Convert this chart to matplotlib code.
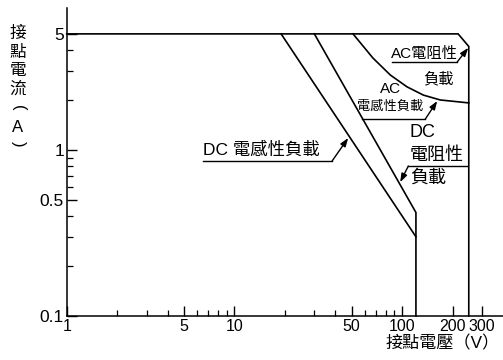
import matplotlib
matplotlib.use("Agg")
import matplotlib.pyplot as plt
from matplotlib.ticker import FixedLocator, NullFormatter

plt.rcParams['font.family'] = ['Liberation Sans', 'Noto Sans CJK TC']

# contact rating curves (voltage V, current A)
env_v = [1, 216, 250, 250]
env_i = [5, 5, 4.2, 0.1]
dc_ind_v = [19, 121]
dc_ind_i = [5, 0.30]
dc_res_v = [30, 121, 121]
dc_res_i = [5, 0.42, 0.1]
ac_ind_v = [51, 67, 85, 107, 134, 169, 250]
ac_ind_i = [5, 3.58, 2.83, 2.40, 2.14, 2.0, 1.92]

x_major = [1, 5, 10, 50, 100, 200, 300]
x_labels = ["1", "5", "10", "50", "100", "200", "300"]
x_minor = [2, 3, 4, 6, 7, 8, 9, 20, 30, 40, 60, 70, 80, 90]
y_major = [0.1, 0.5, 1, 5]
y_labels = ["0.1", "0.5", "1", "5"]
y_minor = [0.2, 0.3, 0.4, 0.6, 0.7, 0.8, 0.9, 2, 3, 4]

fig = plt.figure(figsize=(5.03, 3.6), dpi=100)
ax = fig.add_axes([0.1326, 0.1222, 0.8674, 0.8556])
ax.set_xscale("log")
ax.set_yscale("log")
ax.set_xlim(1, 400)
ax.set_ylim(0.1, 7.16)

lw = 1.2
for v, i in [(env_v, env_i), (dc_ind_v, dc_ind_i), (dc_res_v, dc_res_i), (ac_ind_v, ac_ind_i)]:
    ax.plot(v, i, color="black", lw=lw, solid_joinstyle="miter", clip_on=False)

for s in ["top", "right"]:
    ax.spines[s].set_visible(False)
for s in ["left", "bottom"]:
    ax.spines[s].set_linewidth(1.1)

ax.xaxis.set_major_locator(FixedLocator(x_major))
ax.xaxis.set_minor_locator(FixedLocator(x_minor))
ax.set_xticklabels(x_labels)
ax.xaxis.set_minor_formatter(NullFormatter())
ax.yaxis.set_major_locator(FixedLocator(y_major))
ax.yaxis.set_minor_locator(FixedLocator(y_minor))
ax.set_yticklabels(y_labels)
ax.yaxis.set_minor_formatter(NullFormatter())
ax.tick_params(which="major", direction="in", length=7, width=1.0, pad=2)
ax.tick_params(which="minor", direction="in", length=4.5, width=0.9)
for lab in ax.get_xticklabels():
    lab.set_fontsize(11.5)
for lab in ax.get_yticklabels():
    lab.set_fontsize(12.5)

fs = 12
arrow = dict(arrowstyle="-|>,head_length=0.5,head_width=0.18", color="black", lw=1.0,
             shrinkA=0, shrinkB=0)

def callout(x0, x1, y, tip):
    ax.plot([x0, x1], [y, y], color="black", lw=1.0)
    ax.annotate("", xy=tip, xytext=(x1, y), arrowprops=arrow)

# DC inductive
ax.text(6.5, 1.0, "DC 電感性負載", fontsize=12.5, ha="left", va="center")
callout(6.5, 38.3, 0.859, (47.7, 1.18))

# AC resistive
ax.text(135.5, 3.79, "AC電阻性", fontsize=11, ha="center", va="center")
ax.text(164, 2.68, "負載", fontsize=11, ha="center", va="center")
callout(87.3, 213, 3.38, (248, 4.12))

# AC inductive
ax.text(84.9, 2.33, "AC", fontsize=11, ha="center", va="center")
ax.text(84.9, 1.82, "電感性負載", fontsize=9.5, ha="center", va="center")
callout(57.8, 137.4, 1.53, (162, 1.97))

# DC resistive
ax.text(111, 1.27, "DC", fontsize=13, ha="left", va="center")
ax.text(111, 0.92, "電阻性", fontsize=13, ha="left", va="center")
ax.text(111, 0.68, "負載", fontsize=13, ha="left", va="center")
callout(244, 109, 0.80, (97.5, 0.64))

# vertical y label, one glyph at a time
ylab_chars = ["接", "點", "電", "流", "(", "A", ")"]
ylab_rot = [0, 0, 0, 0, -90, 0, -90]
ylab_y = [33, 53, 71, 89, 108, 127, 144]
for ch, rot, yy in zip(ylab_chars, ylab_rot, ylab_y):
    fig.text(18 / 503, 1 - yy / 360, ch, fontsize=fs, ha="center", va="center",
             rotation=rot, rotation_mode="anchor")
fig.text(500 / 503, 1 - 343 / 360, "接點電壓（V）", fontsize=12.3, ha="right", va="center")

fig.savefig("out.png", dpi=100)
